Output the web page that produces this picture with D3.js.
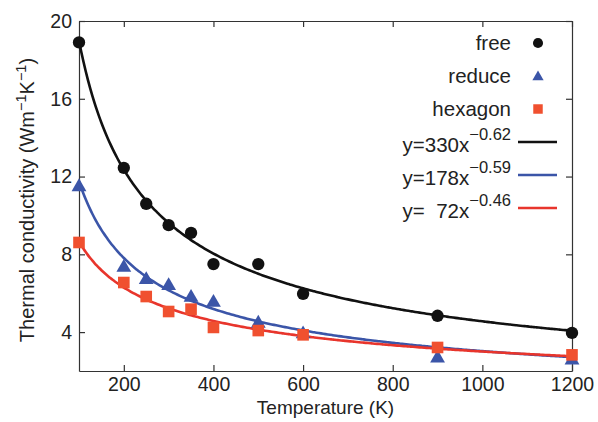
<!DOCTYPE html>
<html>
<head>
<meta charset="utf-8">
<script src="https://cdn.jsdelivr.net/npm/d3@7"></script>
<style>
  body { margin: 0; background: #fff; }
  text { font-family: "Liberation Sans", Arial, sans-serif; fill: #222; }
</style>
</head>
<body>
<div id="chart"></div>
<script>
// temperatures (K)
var temps = [100, 200, 250, 300, 350, 400, 500, 600, 900, 1200];
// thermal conductivity of each structure
var freeVals    = [18.9, 12.45, 10.6, 9.5, 9.1, 7.5, 7.5, 5.97, 4.84, 3.96];
var reduceVals  = [11.47, 7.32, 6.69, 6.38, 5.78, 5.52, 4.45, 3.9, 2.66, 2.56];
var hexagonVals = [8.61, 6.55, 5.83, 5.06, 5.18, 4.24, 4.08, 3.86, 3.21, 2.83];

var seriesNames = ['free', 'reduce', 'hexagon'];
var fitA = [330, 178, 72];
var fitB = [-0.62, -0.59, -0.46];
var fitLabels = ['y=330x', 'y=178x', 'y=  72x'];
var fitExps = ['\u22120.62', '\u22120.59', '\u22120.46'];

var xTicks = [200, 400, 600, 800, 1000, 1200];
var yTicks = [4, 8, 12, 16, 20];

var pointColors = ['#111111', '#3b55a8', '#f0502f'];
var lineColors = ['#111111', '#3b55a8', '#e8352c'];

var width = 598, height = 422;
var margin = { top: 21, right: 26, bottom: 51, left: 79 };
var w = width - margin.left - margin.right;
var h = height - margin.top - margin.bottom;

var svg = d3.select('#chart').append('svg')
    .attr('width', width)
    .attr('height', height);

var g = svg.append('g')
    .attr('transform', 'translate(' + margin.left + ',' + margin.top + ')');

var x = d3.scaleLinear().domain([100, 1200]).range([0, w]);
var y = d3.scaleLinear().domain([2, 20]).range([h, 0]);

// axes, ticks point inward
function styleAxis(sel) {
    sel.selectAll('path.domain').attr('stroke', '#333').attr('stroke-width', 1.2);
    sel.selectAll('.tick line').attr('stroke', '#333').attr('stroke-width', 1.2);
    sel.selectAll('.tick text').style('font-size', '19.5px').attr('fill', '#222');
}

g.append('g')
    .attr('transform', 'translate(0,' + h + ')')
    .call(d3.axisBottom(x).tickValues(xTicks).tickSizeInner(-6).tickSizeOuter(0).tickPadding(6).tickFormat(d3.format('d')))
    .call(styleAxis);

g.append('g')
    .call(d3.axisTop(x).tickValues(xTicks).tickSizeInner(-6).tickSizeOuter(0).tickFormat(''))
    .call(styleAxis);

g.append('g')
    .call(d3.axisLeft(y).tickValues(yTicks).tickSizeInner(-6).tickSizeOuter(0).tickPadding(7))
    .call(styleAxis);

g.append('g')
    .attr('transform', 'translate(' + w + ',0)')
    .call(d3.axisRight(y).tickValues(yTicks).tickSizeInner(-6).tickSizeOuter(0).tickFormat(''))
    .call(styleAxis);

// fitted power-law curves from the legend
var curveX = d3.range(100, 1201, 5);
var line = d3.line()
    .x(function(d) { return x(d[0]); })
    .y(function(d) { return y(d[1]); })
    .curve(d3.curveMonotoneX);

fitA.forEach(function(a, i) {
    var pts = curveX.map(function(t) { return [t, a * Math.pow(t, fitB[i])]; });
    g.append('path')
        .datum(pts)
        .attr('fill', 'none')
        .attr('stroke', lineColors[i])
        .attr('stroke-width', 2.6)
        .attr('d', line);
});

// data markers
var symbols = [d3.symbolCircle, d3.symbolTriangle, d3.symbolSquare];
var sizes = [120, 95, 135];
var allVals = [freeVals, reduceVals, hexagonVals];

allVals.forEach(function(vals, i) {
    g.append('g').selectAll('path')
        .data(vals)
        .enter()
        .append('path')
            .attr('transform', function(d, j) { return 'translate(' + x(temps[j]) + ',' + y(d) + ')'; })
            .attr('d', d3.symbol().type(symbols[i]).size(sizes[i]))
            .attr('fill', pointColors[i]);
});

// legend
var legX = 511, legMark = 538, legY0 = 43, legStep = 33;
var legend = svg.append('g');

seriesNames.forEach(function(name, i) {
    var cy = legY0 + i * legStep;
    legend.append('text')
        .attr('x', legX).attr('y', cy)
        .attr('dy', '0.35em')
        .attr('text-anchor', 'end')
        .style('font-size', '20.5px')
        .text(name);
    legend.append('path')
        .attr('transform', 'translate(' + legMark + ',' + (cy + (i === 1 ? 1 : 0)) + ')')
        .attr('d', d3.symbol().type(symbols[i]).size([80, 55, 90][i]))
        .attr('fill', pointColors[i]);
});

fitLabels.forEach(function(lab, i) {
    var cy = legY0 + (i + 3) * legStep;
    var t = legend.append('text')
        .attr('x', legX).attr('y', cy + 10)
        .attr('text-anchor', 'end')
        .attr('xml:space', 'preserve')
        .style('font-size', '20.5px')
        .style('white-space', 'pre');
    t.append('tspan').text(lab);
    t.append('tspan').attr('dy', -12).style('font-size', '16.5px').text(fitExps[i]);
    legend.append('line')
        .attr('x1', 518).attr('x2', 557)
        .attr('y1', cy).attr('y2', cy)
        .attr('stroke', lineColors[i])
        .attr('stroke-width', 2.6);
});

// axis titles
svg.append('text')
    .attr('x', margin.left + w / 2)
    .attr('y', 414)
    .attr('text-anchor', 'middle')
    .style('font-size', '19px')
    .text('Temperature (K)');

var yt = svg.append('text')
    .attr('transform', 'translate(34,200) rotate(-90)')
    .attr('text-anchor', 'middle')
    .style('font-size', '20px');
yt.append('tspan').text('Thermal conductivity (Wm');
yt.append('tspan').attr('dy', -8).style('font-size', '14.5px').text('\u22121');
yt.append('tspan').attr('dy', 8).text('K');
yt.append('tspan').attr('dy', -8).style('font-size', '14.5px').text('\u22121');
yt.append('tspan').attr('dy', 8).text(')');
</script>
</body>
</html>
